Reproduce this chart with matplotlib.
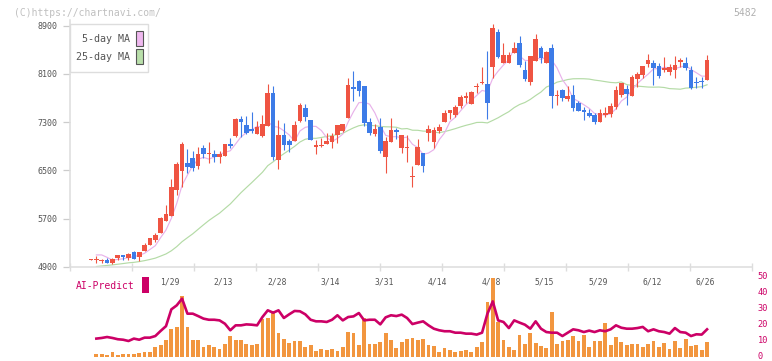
import numpy as np
import pandas as pd
import matplotlib
matplotlib.use("Agg")
import matplotlib.pyplot as plt
import matplotlib.transforms as mtransforms
from matplotlib.patches import Rectangle

# --- daily prices (one entry per trading day, 1/7 .. 6/26) ---
opens = [
    5020, 5010, 5005, 5016, 4971, 5054, 5094, 5054, 5149, 5071,
    5170, 5265, 5348, 5469, 5668, 5751, 6177, 6492, 6624, 6707,
    6580, 6873, 6778, 6773, 6724, 6745, 6939, 7072, 7354, 7254,
    7188, 7105, 7072, 7238, 7785, 6679, 7089, 6989, 6989, 7321,
    7536, 7337, 6895, 6898, 6944, 6973, 7084, 7160, 7375, 7880,
    7984, 7901, 7304, 7105, 7226, 6729, 6977, 7171, 6878, 6878,
    6387, 6599, 6785, 7127, 6977, 7160, 7309, 7459, 7425, 7569,
    7707, 7608, 7880, 7946, 7934, 8221, 8796, 8277, 8287, 8453,
    8609, 8166, 7972, 8320, 8531, 8287, 8526, 7735, 7835, 7685,
    7752, 7614, 7503, 7453, 7415, 7309, 7425, 7437, 7558, 7757,
    7851, 7740, 8022, 8083, 8271, 8282, 8233, 8166, 8138, 8166,
    8304, 8277, 8166, 7967, 7989, 8000]
highs = [
    5035, 5082, 5038, 5054, 5054, 5094, 5104, 5127, 5165, 5149,
    5293, 5386, 5459, 5724, 5928, 6354, 6646, 6972, 6856, 6823,
    6885, 6923, 6972, 6840, 6823, 6939, 7039, 7375, 7404, 7404,
    7470, 7316, 7420, 7934, 7901, 7337, 7288, 7022, 7321, 7619,
    7603, 7337, 7006, 7034, 7127, 7127, 7254, 7276, 8034, 8150,
    8000, 7901, 7370, 7271, 7365, 7050, 7365, 7205, 7084, 7081,
    6575, 7017, 6785, 7254, 7216, 7266, 7503, 7503, 7586, 7752,
    7802, 7823, 7956, 8221, 8481, 8929, 8841, 8609, 8470, 8630,
    8730, 8320, 8398, 8763, 8564, 8481, 8597, 7835, 7851, 7901,
    7918, 7652, 7558, 7520, 7453, 7520, 7548, 7614, 7901, 7956,
    7918, 8083, 8138, 8233, 8432, 8332, 8287, 8387, 8266, 8398,
    8370, 8382, 8238, 8055, 8045, 8415]
lows = [
    5015, 4971, 4971, 4961, 4945, 5016, 5016, 5016, 5033, 5004,
    5170, 5265, 5319, 5459, 5668, 5751, 6094, 6231, 6460, 6492,
    6533, 6702, 6624, 6646, 6624, 6745, 6868, 7047, 7055, 7105,
    7117, 7105, 7060, 7238, 6674, 6530, 6840, 6807, 6989, 7304,
    7317, 7006, 6774, 6885, 6944, 6878, 6961, 7143, 7375, 7657,
    7740, 7238, 7089, 7080, 6795, 6463, 6977, 7022, 6795, 6646,
    6231, 6599, 6475, 6994, 6878, 7127, 7309, 7359, 7392, 7531,
    7624, 7608, 7790, 7934, 7354, 8039, 8360, 8277, 8287, 8453,
    8221, 7976, 7918, 8320, 8277, 8287, 7541, 7586, 7657, 7652,
    7492, 7492, 7337, 7382, 7266, 7309, 7392, 7392, 7515, 7724,
    7586, 7740, 7889, 8029, 8221, 7918, 8029, 8138, 8083, 8039,
    8221, 8166, 7856, 7873, 7873, 8000]
closes = [
    5030, 5020, 5012, 4971, 5033, 5094, 5071, 5116, 5038, 5149,
    5265, 5386, 5426, 5712, 5779, 6231, 6613, 6939, 6563, 6546,
    6769, 6773, 6795, 6724, 6773, 6939, 6906, 7359, 7309, 7127,
    7155, 7221, 7266, 7785, 6729, 7089, 6923, 6923, 7254, 7586,
    7392, 7006, 6918, 6915, 6994, 7077, 7254, 7276, 7918, 7851,
    7818, 7293, 7117, 7188, 6828, 6989, 7171, 7130, 7084, 6890,
    6404, 6885, 6580, 7188, 7171, 7226, 7453, 7503, 7553, 7719,
    7735, 7807, 7906, 7972, 7611, 8858, 8387, 8415, 8415, 8526,
    8257, 8012, 8398, 8680, 8360, 8470, 7740, 7752, 7707, 7735,
    7541, 7492, 7475, 7409, 7309, 7453, 7448, 7569, 7835, 7956,
    7768, 8050, 8105, 8233, 8332, 8204, 8072, 8204, 8216, 8249,
    8332, 8204, 7873, 7946, 7967, 8332]
# closes before the window (estimated from where the MA lines start)
early_closes = [4780, 4760, 4800, 4820, 4790, 4810, 4850, 4830, 4870, 4900,
                4880, 4860, 4890, 4920, 4900, 4880, 4910, 4930, 4900, 4920,
                5010, 5170, 5270]

# --- lower panel, days 1 .. 115 ---
volume = [
    2.3, 2.3, 1.7, 3.5, 1.7, 2.3, 2.3, 2.3, 2.9, 3.5,
    3.5, 6.7, 7.9, 10.8, 17.9, 19.2, 38.5, 19.2, 10.6, 10.6,
    6.7, 7.9, 6.7, 5.0, 8.5, 13.5, 10.6, 10.6, 8.5, 7.5,
    8.5, 24.0, 24.8, 29.2, 15.4, 11.7, 9.2, 10.0, 10.0, 6.7,
    7.5, 3.8, 5.0, 4.6, 5.0, 4.0, 6.7, 16.0, 15.4, 7.9,
    24.8, 8.5, 8.5, 9.4, 15.4, 11.0, 6.0, 9.8, 11.7, 12.3,
    11.0, 11.7, 7.9, 7.3, 3.5, 6.0, 4.8, 3.5, 4.2, 4.8,
    3.5, 6.7, 9.8, 34.8, 49.8, 22.3, 11.0, 6.7, 4.8, 14.2,
    8.5, 15.4, 9.2, 7.3, 6.0, 28.5, 8.5, 10.4, 11.0, 13.5,
    10.4, 14.2, 6.7, 10.4, 10.4, 21.7, 7.9, 12.9, 9.8, 7.9,
    8.5, 8.5, 6.7, 8.5, 10.4, 6.7, 9.2, 5.4, 10.4, 6.0,
    11.7, 7.3, 7.9, 4.8, 9.8]
ai_predict = [
    11.7, 12.1, 12.7, 12.1, 11.3, 11.0, 10.2, 11.7, 11.0, 12.3,
    12.3, 13.3, 16.5, 19.5, 30.0, 32.5, 36.7, 27.3, 27.3, 25.8,
    24.2, 23.5, 23.5, 23.1, 21.0, 16.9, 20.0, 20.0, 20.6, 20.4,
    20.0, 25.2, 29.4, 27.9, 29.4, 24.6, 26.9, 29.0, 28.8, 26.9,
    23.5, 22.5, 22.5, 22.1, 23.5, 26.3, 23.1, 25.2, 25.6, 27.7,
    23.1, 23.5, 23.5, 20.6, 25.0, 26.3, 25.8, 26.7, 24.6, 20.8,
    21.7, 22.5, 20.0, 17.9, 16.9, 16.3, 16.3, 15.4, 15.4, 14.8,
    14.8, 14.2, 15.4, 27.3, 35.0, 23.1, 22.1, 18.3, 23.1, 21.7,
    20.4, 17.9, 22.5, 17.9, 15.8, 15.4, 15.4, 13.3, 15.4, 17.5,
    16.9, 15.8, 16.7, 15.8, 16.9, 16.3, 17.5, 20.0, 18.5, 17.9,
    17.9, 18.3, 19.0, 16.3, 17.5, 16.3, 15.8, 14.8, 18.3, 15.8,
    15.4, 13.3, 14.4, 14.2, 17.5]

date_labels = ["1/29", "2/13", "2/28", "3/14", "3/31", "4/14",
               "4/28", "5/15", "5/29", "6/12", "6/26"]
date_index = [15, 25, 35, 45, 55, 65, 75, 85, 95, 105, 115]
price_ticks = [4900, 5700, 6500, 7300, 8100, 8900]
ai_ticks = [0, 10, 20, 30, 40, 50]

RED = "#ef5442"
BLUE = "#3d7be7"
PINK = "#e8b2ea"
GREEN = "#b4dba6"
MAGENTA = "#cc0066"
ORANGE = "#f2963f"
GRID = "#dddddd"
MONO = "DejaVu Sans Mono"

W, H = 772, 361
fig = plt.figure(figsize=(W / 100, H / 100), dpi=100)
fig.patch.set_facecolor("white")


def box(x0, y0, x1, y1):
    return [x0 / W, 1 - y1 / H, (x1 - x0) / W, (y1 - y0) / H]


ax = fig.add_axes(box(70, 20, 752, 267))
axv = fig.add_axes(box(70, 272.6, 752, 357.3))
xlim = (-3.92, 123.39)

# candles
o = np.array(opens, float)
c = np.array(closes, float)
hi = np.array(highs, float)
lo = np.array(lows, float)
idx = np.arange(len(c))
cols = np.where(c >= o, RED, BLUE)
ax.vlines(idx, lo, hi, colors=cols, lw=0.8, zorder=3)
ax.bar(idx, np.maximum(np.abs(c - o), 17), bottom=np.minimum(o, c),
       width=0.86, color=cols, lw=0, zorder=3)

# moving averages
allc = pd.Series(early_closes + closes, dtype=float)
n0 = len(early_closes)
ma5 = allc.rolling(5).mean().to_numpy()[n0:]
ma25 = allc.rolling(25).mean().to_numpy()[n0:]
ax.plot(idx[1:], ma25[1:], color=GREEN, lw=0.85, zorder=2)
ax.plot(idx[1:], ma5[1:], color=PINK, lw=0.85, zorder=2)

ax.set_xlim(*xlim)
ax.set_ylim(4900, 8995)
ax.set_yticks(price_ticks)
ax.set_yticklabels([str(v) for v in price_ticks], family=MONO, fontsize=6, color="#555555")
ax.tick_params(axis="y", length=5, width=0.9, color="#cccccc", pad=4)
ax.set_xticks(np.linspace(xlim[0], xlim[1], 12))
ax.set_xticklabels([])
ax.tick_params(axis="x", direction="inout", length=6, width=1.0, color=GRID)
for s in ["top", "right"]:
    ax.spines[s].set_visible(False)
for s in ["left", "bottom"]:
    ax.spines[s].set_color(GRID)
    ax.spines[s].set_linewidth(1.1)
ax.patch.set_alpha(0)

trans = mtransforms.blended_transform_factory(ax.transData, ax.transAxes)
for lab, i in zip(date_labels, date_index):
    ax.text(i - 0.3, -0.061, lab, transform=trans, ha="center", va="center",
            family=MONO, fontsize=5.8, color="#555555")

# lower panel
vi = np.arange(1, len(volume) + 1)
axv.bar(vi, volume, width=0.7, color=ORANGE, lw=0, zorder=2)
axv.plot(vi, ai_predict, color=MAGENTA, lw=1.9, zorder=3)
axv.set_xlim(*xlim)
axv.set_ylim(0, 53)
axv.set_xticks([])
axv.yaxis.tick_right()
axv.set_yticks(ai_ticks)
axv.set_yticklabels([str(v) for v in ai_ticks], family=MONO, fontsize=6.2, color=MAGENTA)
axv.tick_params(axis="y", length=0, pad=4)
# nudge the right labels up a little so "0" stays inside the picture
lift = mtransforms.ScaledTranslation(0, 2.0 / 100, fig.dpi_scale_trans)
for lab in axv.get_yticklabels():
    lab.set_va("center_baseline")
    lab.set_transform(lab.get_transform() + lift)
for s in axv.spines.values():
    s.set_visible(False)
axv.patch.set_alpha(0)

# overlay for legend and captions (pixel coordinates)
ov = fig.add_axes([0, 0, 1, 1], zorder=10)
ov.set_xlim(0, W)
ov.set_ylim(H, 0)
ov.axis("off")
ov.patch.set_alpha(0)

ov.text(14, 12.5, "(C)https://chartnavi.com/", family=MONO, fontsize=7,
        color="#c0c0c0", ha="left", va="center")
ov.text(757, 12.5, "5482", family=MONO, fontsize=7, color="#b0b0b0",
        ha="right", va="center")

ov.add_patch(Rectangle((70, 24), 78, 48, fc="white", ec=GRID, lw=1.0))
ov.text(130, 39, "5-day MA", family=MONO, fontsize=7.2, color="#555555",
        ha="right", va="center")
ov.text(130, 56.5, "25-day MA", family=MONO, fontsize=7.2, color="#555555",
        ha="right", va="center")
ov.add_patch(Rectangle((136, 31), 6.5, 15, fc="#efb8ef", ec="#555555", lw=0.8))
ov.add_patch(Rectangle((136, 48.5), 6.5, 15, fc="#b9dfaa", ec="#555555", lw=0.8))

ov.text(76, 286, "AI-Predict", family=MONO, fontsize=7, color=MAGENTA,
        ha="left", va="center")
ov.add_patch(Rectangle((142.3, 277.3), 6.4, 15.4, fc=MAGENTA, ec="none"))

fig.savefig("out.png", dpi=100)
